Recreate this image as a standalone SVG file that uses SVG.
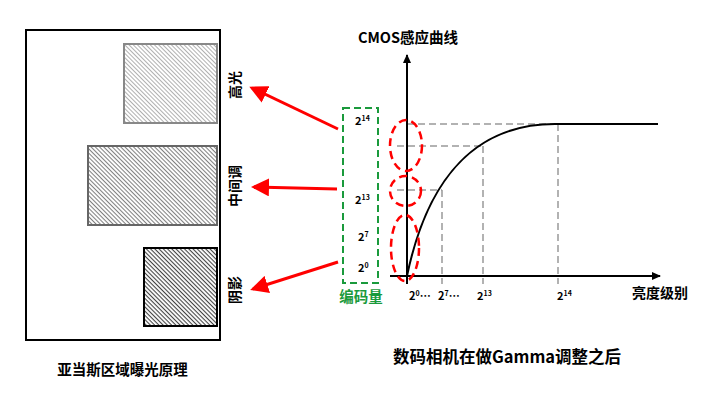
<svg xmlns="http://www.w3.org/2000/svg" width="720" height="405" viewBox="0 0 720 405">
<style>
text{font-family:"Noto Sans CJK SC","Liberation Sans",sans-serif;font-weight:bold;fill:#000}
.lbl{font-size:14px}
.num{font-size:11px}
.sup{font-size:7px}
.grid{stroke:#999;stroke-width:1.5;stroke-dasharray:7,4;fill:none}
.red{stroke:#f00;stroke-width:2.5;stroke-dasharray:8,5;fill:none}
.arr{stroke:#f00;stroke-width:3;fill:none;marker-end:url(#ah)}
</style>
<defs>
<pattern id="h1" width="3" height="3" patternUnits="userSpaceOnUse" patternTransform="rotate(45)"><rect width="3" height="3" fill="#fff"/><line x1="0" y1="0.5" x2="3" y2="0.5" stroke="#b0b0b0" stroke-width="1"/></pattern>
<pattern id="h2" width="3" height="3" patternUnits="userSpaceOnUse" patternTransform="rotate(45)"><rect width="3" height="3" fill="#fff"/><line x1="0" y1="0.5" x2="3" y2="0.5" stroke="#808080" stroke-width="1.1"/></pattern>
<pattern id="h3" width="3" height="3" patternUnits="userSpaceOnUse" patternTransform="rotate(45)"><rect width="3" height="3" fill="#fff"/><line x1="0" y1="0.5" x2="3" y2="0.5" stroke="#444" stroke-width="1.2"/></pattern>
<marker id="ah" markerWidth="6" markerHeight="6" refX="5" refY="3" orient="auto" markerUnits="strokeWidth"><path d="M0,0 L6,3 L0,6 Z" fill="#f00"/></marker>
<marker id="ak" markerWidth="10" markerHeight="10" refX="8" refY="4" orient="auto" markerUnits="userSpaceOnUse"><path d="M0,0 L9,4 L0,8 Z" fill="#000"/></marker>
</defs>

<g id="frame">
<rect x="26" y="30" width="194" height="310" fill="#fff" stroke="#000" stroke-width="2"/>
</g>
<g id="highlight">
<rect x="124" y="44" width="93" height="79" fill="url(#h1)" stroke="#888" stroke-width="2"/>
<text class="lbl" transform="translate(240,85) rotate(-90)" text-anchor="middle">高光</text>
</g>
<g id="midtone">
<rect x="88" y="146" width="129" height="79" fill="url(#h2)" stroke="#666" stroke-width="2"/>
<text class="lbl" transform="translate(240,186) rotate(-90)" text-anchor="middle">中间调</text>
</g>
<g id="shadow">
<rect x="144" y="248" width="73" height="78" fill="url(#h3)" stroke="#000" stroke-width="2"/>
<text class="lbl" transform="translate(240,290) rotate(-90)" text-anchor="middle">阴影</text>
</g>
<g id="title-left">
<text x="122.5" y="375" font-size="14.5" text-anchor="middle">亚当斯区域曝光原理</text>
</g>

<g id="encoding">
<rect x="343" y="108" width="35" height="175" fill="none" stroke="#1a9a3c" stroke-width="2" stroke-dasharray="7,4"/>
<text class="num" x="355" y="125">2<tspan class="sup" dy="-4">14</tspan></text>
<text class="num" x="355" y="204">2<tspan class="sup" dy="-4">13</tspan></text>
<text class="num" x="358" y="241">2<tspan class="sup" dy="-4">7</tspan></text>
<text class="num" x="358" y="272">2<tspan class="sup" dy="-4">0</tspan></text>
<text x="361" y="302" font-size="14.5" text-anchor="middle" style="fill:#1a9a3c">编码量</text>
</g>

<g id="chart">
<text x="408" y="43" font-size="14.5" text-anchor="middle">CMOS感应曲线</text>
<line class="grid" x1="407" y1="124" x2="557" y2="124"/>
<line class="grid" x1="397" y1="146" x2="484" y2="146"/>
<line class="grid" x1="397" y1="190" x2="442" y2="190"/>
<line class="grid" x1="442" y1="190" x2="442" y2="284"/>
<line class="grid" x1="483" y1="146" x2="483" y2="284"/>
<line class="grid" x1="558" y1="124" x2="558" y2="284"/>
<line x1="407" y1="284" x2="407" y2="55" stroke="#000" stroke-width="2" marker-end="url(#ak)"/>
<line x1="390" y1="276" x2="660" y2="276" stroke="#000" stroke-width="2" marker-end="url(#ak)"/>
<path d="M407,276 C428,175 478,124 555,124 L658,124" fill="none" stroke="#000" stroke-width="2"/>
<ellipse class="red" cx="406" cy="145.5" rx="16" ry="25.5"/>
<ellipse class="red" cx="405.5" cy="191" rx="15.5" ry="15"/>
<ellipse class="red" cx="405" cy="248" rx="14" ry="33"/>
<text class="num" x="409" y="300">2<tspan class="sup" dy="-4">0</tspan><tspan dy="4">…</tspan></text>
<text class="num" x="438" y="300">2<tspan class="sup" dy="-4">7</tspan><tspan dy="4">…</tspan></text>
<text class="num" x="477" y="300">2<tspan class="sup" dy="-4">13</tspan></text>
<text class="num" x="557" y="300">2<tspan class="sup" dy="-4">14</tspan></text>
<text x="660" y="298" font-size="14" text-anchor="middle">亮度级别</text>
<text x="507" y="363" font-size="16.5" text-anchor="middle">数码相机在做Gamma调整之后</text>
</g>

<g id="connectors">
<line class="arr" x1="338" y1="129" x2="252" y2="88"/>
<line class="arr" x1="337" y1="189" x2="254" y2="187"/>
<line class="arr" x1="338" y1="262" x2="253" y2="289"/>
</g>
</svg>
